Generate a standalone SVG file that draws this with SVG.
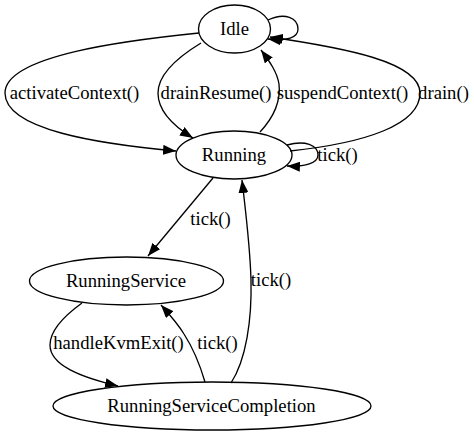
<svg xmlns="http://www.w3.org/2000/svg" width="474" height="437" viewBox="0 0 474 437">
<style>
text{font-family:"Liberation Serif","Times New Roman",serif;font-size:18.67px;fill:#000;text-anchor:middle}
.node ellipse{fill:none;stroke:#000;stroke-width:1.33}
.edge path{fill:none;stroke:#000;stroke-width:1.33;marker-end:url(#arr)}
</style>
<defs>
<marker id="arr" markerUnits="userSpaceOnUse" markerWidth="13" markerHeight="10" viewBox="0 0 13 10" refX="13" refY="5" orient="auto">
<path d="M0,0 L13,5 L0,10 z" fill="#000"/>
</marker>
</defs>
<rect width="474" height="437" fill="#fff"/>
<g id="edges">
<g class="edge"><path d="M268,20 C285,12 298,18 298,29 C298,38 287,41 268,39"/></g>
<g class="edge"><path d="M290,151 C365,143 420,125 420,93 C420,62 345,48 270,37"/><text x="443.5" y="99">drain()</text></g>
<g class="edge"><path d="M260,132 C273,118 281,101 279,84 C277,72 270,62 261,50"/><text x="342.5" y="99">suspendContext()</text></g>
<g class="edge"><path d="M201,43 C178,57 158,75 158,93 C158,112 175,127 193,138"/><text x="216" y="99">drainResume()</text></g>
<g class="edge"><path d="M199,33 C130,40 5,55 5,93 C5,130 100,144 176,151"/><text x="74.5" y="99">activateContext()</text></g>
<g class="edge"><path d="M287,145 C305,140 318,145 318,155 C318,163 305,167 287,166"/><text x="337.5" y="161">tick()</text></g>
<g class="edge"><path d="M213,178 L148,256"/><text x="210.5" y="225">tick()</text></g>
<g class="edge"><path d="M231,383 C246,360 252,320 251,280 C250,245 246,215 242,180"/><text x="271" y="286">tick()</text></g>
<g class="edge"><path d="M82,303 C64,316 50,330 50,345 C50,365 80,377 118,386"/><text x="118.5" y="349">handleKvmExit()</text></g>
<g class="edge"><path d="M205,382 C200,365 193,348 184,334 C178,324 170,315 161,305"/><text x="217.5" y="349">tick()</text></g>
</g>
<g id="node-Idle" class="node"><ellipse cx="234.5" cy="29" rx="36" ry="24"/><text x="234.5" y="35">Idle</text></g>
<g id="node-Running" class="node"><ellipse cx="234" cy="155" rx="58" ry="24"/><text x="234" y="161">Running</text></g>
<g id="node-RunningService" class="node"><ellipse cx="126.5" cy="281" rx="97" ry="24"/><text x="126" y="287">RunningService</text></g>
<g id="node-RunningServiceCompletion" class="node"><ellipse cx="212" cy="406" rx="159" ry="24"/><text x="211.5" y="412">RunningServiceCompletion</text></g>
</svg>
